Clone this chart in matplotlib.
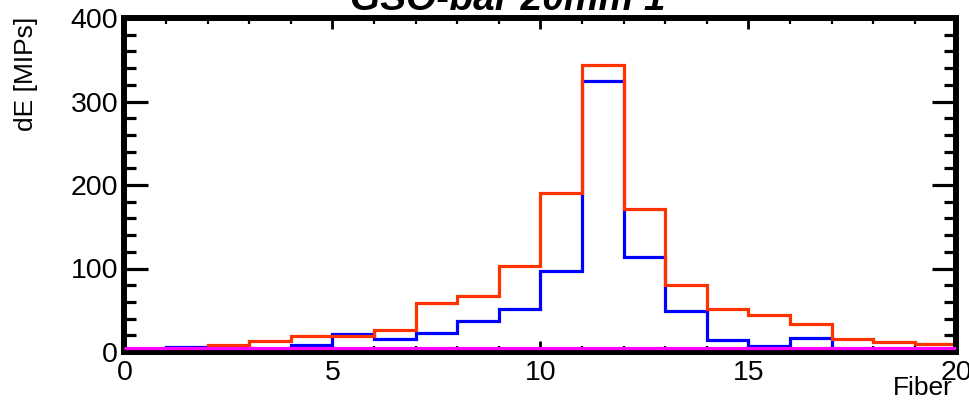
import matplotlib
matplotlib.use("Agg")
import matplotlib.pyplot as plt
from matplotlib.ticker import MultipleLocator
import numpy as np

# Data (bins of width 1 from 0 to 20)
bin_edges = list(range(0, 21))
red_values = [3, 3, 8, 13.5, 19, 19.5, 26, 59, 67, 103, 190, 344, 171, 80, 52, 44, 33, 15.5, 12, 10]
blue_values = [2, 6, 4, 3, 8, 21, 15, 23, 37, 51, 97, 324.5, 114, 49.5, 14, 7.5, 16.5, 2, 2, 2]
magenta_values = [4.5] * 20

title = "GSO-bar 20mm 1"
xlabel = "Fiber"
ylabel = "dE [MIPs]"

plt.rcParams['font.family'] = ['Liberation Sans', 'DejaVu Sans']

fig = plt.figure(figsize=(9.7, 4.0), dpi=100)
W, H = 970, 400
left, right, top, bottom = 124.5, 956.5, 18, 352
ax = fig.add_axes([left / W, 1 - bottom / H, (right - left) / W, (bottom - top) / H])

lw = 2.3
ax.stairs(blue_values, bin_edges, color='#0000ff', linewidth=lw, baseline=None, zorder=3)
ax.stairs(red_values, bin_edges, color='#ff3300', linewidth=lw, baseline=None, zorder=4)
ax.stairs(magenta_values, bin_edges, color='#ff00ff', linewidth=lw, baseline=None, zorder=7)

ax.set_xlim(0, 20)
ax.set_ylim(0, 400)

for s in ax.spines.values():
    s.set_linewidth(4.3)
    s.set_color('black')
    s.set_zorder(6)

ax.xaxis.set_major_locator(MultipleLocator(5))
ax.xaxis.set_minor_locator(MultipleLocator(1))
ax.yaxis.set_major_locator(MultipleLocator(100))
ax.yaxis.set_minor_locator(MultipleLocator(20))

ax.tick_params(axis='y', which='major', direction='in', left=True, right=True,
               length=17, width=2.3, labelsize=20.5, pad=4.5)
ax.tick_params(axis='y', which='minor', direction='in', left=True, right=True,
               length=8.3, width=2.3)
ax.tick_params(axis='x', which='major', direction='in', top=True, bottom=True,
               length=8, width=2.0, labelsize=20.5, pad=6)
ax.tick_params(axis='x', which='minor', direction='in', top=True, bottom=True,
               length=4, width=1.6)

fig.text(953 / W, 1 - 395 / H, xlabel, ha='right', va='baseline', fontsize=19)
fig.text(26.5 / W, 1 - 17 / H, ylabel, ha='center', va='top', rotation=90, fontsize=19)
fig.text(508 / W, 1 - 10 / H, title, ha='center', va='baseline', fontsize=28,
         fontweight='bold', fontstyle='italic')

fig.savefig('out.png', dpi=100)
